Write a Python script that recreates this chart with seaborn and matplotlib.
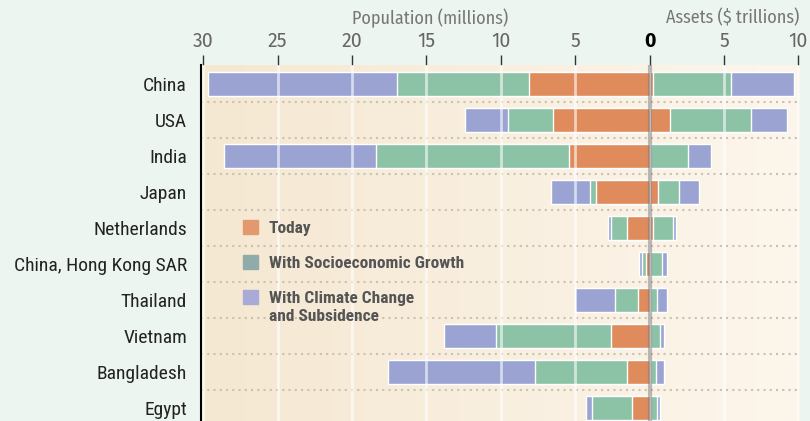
import numpy as np
import pandas as pd
import seaborn as sns
import matplotlib.pyplot as plt
from matplotlib.patches import Patch
from matplotlib.colors import LinearSegmentedColormap

# data
countries = ["China", "USA", "India", "Japan", "Netherlands", "China, Hong Kong SAR",
             "Thailand", "Vietnam", "Bangladesh", "Egypt"]
# population exposed, millions (drawn to the left)
pop_today = [8.1, 6.5, 5.4, 3.6, 1.5, 0.27, 0.8, 2.6, 1.5, 1.2]
pop_growth = [17.0, 9.5, 18.4, 4.0, 2.6, 0.54, 2.3, 10.3, 7.7, 3.9]
pop_climate = [29.7, 12.4, 28.6, 6.6, 2.8, 0.74, 5.0, 13.8, 17.6, 4.3]
# assets exposed, $ trillions (drawn to the right)
assets_today = [0.2, 1.35, 0.05, 0.55, 0.2, 0.05, 0.05, 0.05, 0.05, 0.05]
assets_growth = [5.5, 6.8, 2.6, 1.95, 1.55, 0.8, 0.47, 0.67, 0.4, 0.47]
assets_climate = [9.7, 9.2, 4.1, 3.3, 1.75, 1.2, 1.2, 1.0, 1.0, 0.67]

xticks = [-30, -25, -20, -15, -10, -5, 0, 5, 10]

col_today = "#df8b5b"
col_growth = "#8cc2a6"
col_climate = "#9ba3d3"
leg_today = "#e4986e"
leg_growth = "#8facaa"
leg_climate = "#aaaad8"

narrow = ["Roboto Condensed", "DejaVu Sans"]
numfont = ["Fira Sans", "DejaVu Sans"]
titlefont = ["Fira Sans Condensed", "DejaVu Sans"]

sns.set_style("white")
fig = plt.figure(figsize=(8.1, 4.21), dpi=100, facecolor="#edf5f0")
ax = fig.add_axes([0.248, -0.0, 0.739, 0.846])
ax.set_facecolor("none")

# background gradient of the plot area
grad = np.linspace(0, 1, 256).reshape(1, -1)
bg_cmap = LinearSegmentedColormap.from_list("bg", ["#f5e8d2", "#fdf6ec"])
ax.imshow(grad, cmap=bg_cmap, aspect="auto", extent=(0, 1, 0, 1),
          transform=ax.transAxes, zorder=0)

df = pd.DataFrame({
    "country": countries,
    "pop_today": -np.array(pop_today), "pop_growth": -np.array(pop_growth),
    "pop_climate": -np.array(pop_climate),
    "assets_today": assets_today, "assets_growth": assets_growth,
    "assets_climate": assets_climate,
})

# longest layer first, so the shorter ones sit on top
layers = [("climate", col_climate), ("growth", col_growth), ("today", col_today)]
for name, col in layers:
    for side in ["pop", "assets"]:
        sns.barplot(data=df, x=f"{side}_{name}", y="country", orient="h", color=col,
                    saturation=1, width=0.66, ax=ax, zorder=2)

# dotted row separators
for b in np.arange(0.5, len(countries) - 0.5, 1):
    ax.axhline(b, color="#c9c1b3", lw=1.5, ls=(0, (1, 2)), zorder=1)

# white vertical grid and centre line
for t in xticks:
    if t == 0:
        ax.axvline(0, color="#7a7a7a", lw=3, alpha=0.5, zorder=4)
    else:
        ax.axvline(t, color="white", lw=2, alpha=0.6, zorder=3)

ax.set_xlim(-30.15, 10.07)
ax.set_ylim(9.36, -0.53)

ax.xaxis.tick_top()
ax.set_xticks(xticks)
ax.set_xticklabels([str(abs(t)) for t in xticks])
ax.tick_params(axis="x", length=7, width=1, color="#333333", pad=3,
               labelsize=14, labelcolor="#666666")
for lab in ax.get_xticklabels():
    lab.set_family(numfont)
    if lab.get_text() == "0":
        lab.set_fontweight("bold")
        lab.set_color("black")

ax.set_yticks(range(len(countries)))
ax.set_yticklabels(countries, family=narrow, fontsize=14, color="#222222")
ax.set_yticks(np.arange(0.5, len(countries) - 0.5, 1), minor=True)
ax.tick_params(axis="y", which="major", length=0, pad=10)
ax.tick_params(axis="y", which="minor", length=4, width=1, color="#555555")
ax.set_xlabel("")
ax.set_ylabel("")

for s in ["top", "right", "bottom"]:
    ax.spines[s].set_visible(False)
ax.spines["left"].set_color("black")
ax.spines["left"].set_linewidth(1.5)
ax.spines["left"].set_zorder(5)

fig.text(0.531, 0.957, "Population (millions)", ha="center", va="center",
         fontsize=13, color="#777777", family=titlefont)
fig.text(0.904, 0.957, "Assets ($ trillions)", ha="center", va="center",
         fontsize=13, color="#777777", family=titlefont)

handles = [Patch(color=leg_today), Patch(color=leg_growth), Patch(color=leg_climate)]
labels = ["Today", "With Socioeconomic Growth", "With Climate Change"]
legprop = {"family": narrow, "weight": "bold", "size": 12.5}
leg = ax.legend(handles, labels, loc="upper left", bbox_to_anchor=(0.045, 0.607),
                frameon=False, handlelength=0.85, handleheight=0.85, handletextpad=0.6,
                labelspacing=1.1, prop=legprop)
for t in leg.get_texts():
    t.set_color("#555555")
# second line of the last legend entry, hung under its first line
ax.annotate("and Subsidence", xy=(0, 0), xycoords=leg.get_texts()[2],
            xytext=(0, -3), textcoords="offset pixels", ha="left", va="top",
            color="#555555", family=narrow, weight="bold", fontsize=12.5, zorder=6)

fig.savefig("out.png", dpi=100, facecolor=fig.get_facecolor())
